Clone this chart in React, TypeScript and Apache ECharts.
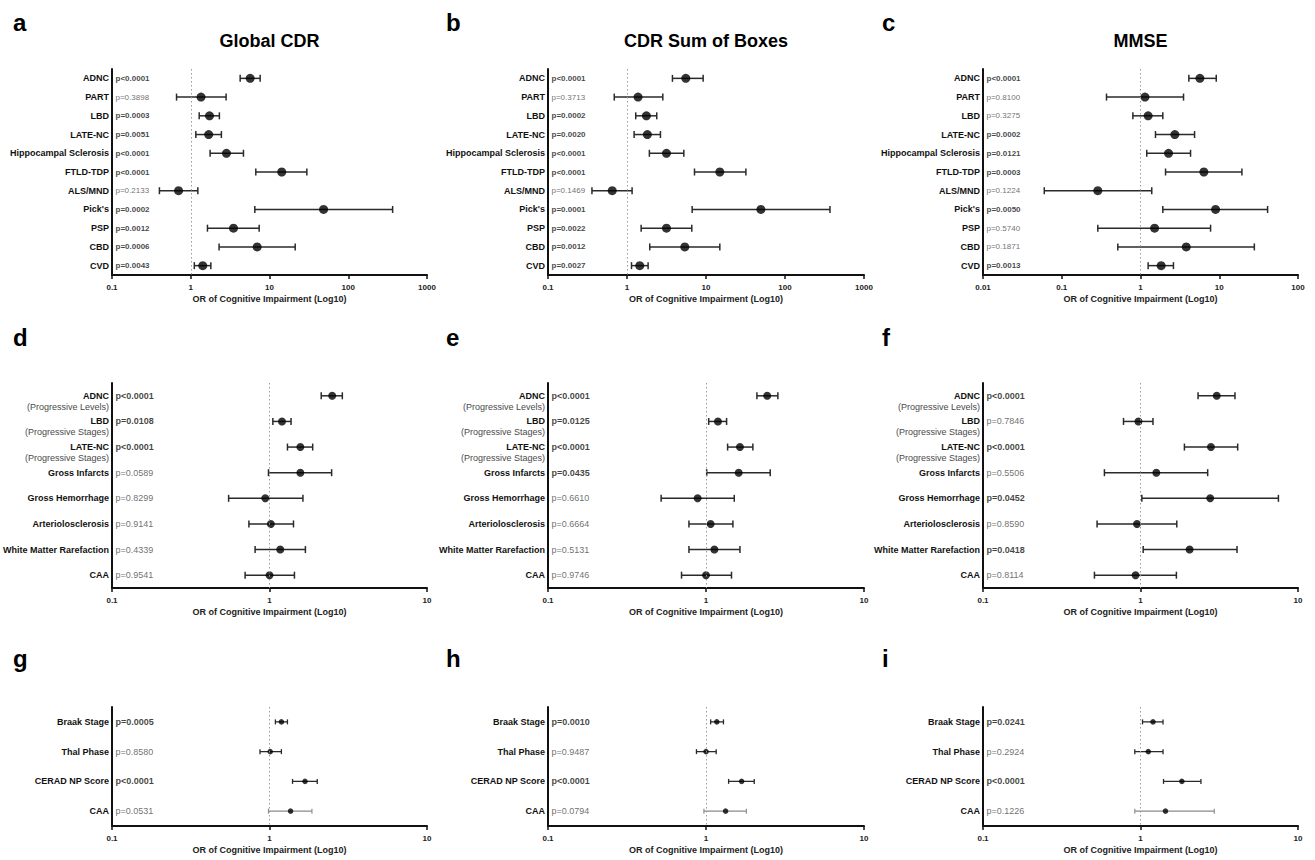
import React, { useEffect, useRef } from 'react';
import * as echarts from 'echarts';

const FONT = '"Liberation Sans", Arial, Helvetica, sans-serif';

// ---------- categories ----------
const topCategories = ['ADNC', 'PART', 'LBD', 'LATE-NC', 'Hippocampal Sclerosis', 'FTLD-TDP', 'ALS/MND', "Pick's", 'PSP', 'CBD', 'CVD'];
const midCategories = ['ADNC', 'LBD', 'LATE-NC', 'Gross Infarcts', 'Gross Hemorrhage', 'Arteriolosclerosis', 'White Matter Rarefaction', 'CAA'];
const midSubtitles = ['(Progressive Levels)', '(Progressive Stages)', '(Progressive Stages)', '', '', '', '', ''];
const botCategories = ['Braak Stage', 'Thal Phase', 'CERAD NP Score', 'CAA'];

// ---------- axis ranges / tick labels ----------
const rangeWide = [0.1, 1000];
const rangeMMSE = [0.01, 100];
const rangeNarrow = [0.1, 10];
const xAxisTitle = 'OR of Cognitive Impairment (Log10)';

// ---------- a: Global CDR ----------
const aOR = [5.68, 1.35, 1.73, 1.69, 2.84, 14.3, 0.70, 48.6, 3.49, 6.97, 1.42];
const aLow = [4.24, 0.66, 1.28, 1.16, 1.76, 6.70, 0.40, 6.51, 1.63, 2.29, 1.11];
const aHigh = [7.61, 2.81, 2.31, 2.45, 4.67, 29.8, 1.23, 366, 7.39, 21.2, 1.80];
const aP = ['p<0.0001', 'p=0.3898', 'p=0.0003', 'p=0.0051', 'p<0.0001', 'p<0.0001', 'p=0.2133', 'p=0.0002', 'p=0.0012', 'p=0.0006', 'p=0.0043'];

// ---------- b: CDR Sum of Boxes ----------
const bOR = [5.55, 1.38, 1.76, 1.81, 3.16, 14.96, 0.65, 49.5, 3.16, 5.39, 1.45];
const bLow = [3.76, 0.69, 1.29, 1.23, 1.92, 7.15, 0.36, 6.68, 1.51, 1.94, 1.14];
const bHigh = [9.2, 2.84, 2.38, 2.65, 5.24, 32, 1.16, 371, 6.61, 14.96, 1.85];
const bP = ['p<0.0001', 'p=0.3713', 'p=0.0002', 'p=0.0020', 'p<0.0001', 'p<0.0001', 'p=0.1469', 'p=0.0001', 'p=0.0022', 'p=0.0012', 'p=0.0027'];

// ---------- c: MMSE ----------
const cOR = [5.68, 1.14, 1.25, 2.73, 2.27, 6.38, 0.287, 8.98, 1.51, 3.81, 1.83];
const cLow = [4.11, 0.37, 0.80, 1.55, 1.20, 2.08, 0.060, 1.92, 0.287, 0.515, 1.25];
const cHigh = [9.16, 3.52, 1.92, 4.86, 4.32, 19.4, 1.39, 41.1, 7.76, 27.9, 2.62];
const cP = ['p<0.0001', 'p=0.8100', 'p=0.3275', 'p=0.0002', 'p=0.0121', 'p=0.0003', 'p=0.1224', 'p=0.0050', 'p=0.5740', 'p=0.1871', 'p=0.0013'];

// ---------- d ----------
const dOR = [2.50, 1.20, 1.57, 1.57, 0.94, 1.02, 1.17, 1.00];
const dLow = [2.13, 1.05, 1.30, 0.985, 0.55, 0.74, 0.81, 0.70];
const dHigh = [2.90, 1.37, 1.88, 2.48, 1.63, 1.42, 1.69, 1.44];
const dP = ['p<0.0001', 'p=0.0108', 'p<0.0001', 'p=0.0589', 'p=0.8299', 'p=0.9141', 'p=0.4339', 'p=0.9541'];

// ---------- e ----------
const eOR = [2.44, 1.19, 1.64, 1.61, 0.885, 1.07, 1.13, 1.00];
const eLow = [2.10, 1.04, 1.37, 1.01, 0.52, 0.78, 0.78, 0.70];
const eHigh = [2.85, 1.35, 1.98, 2.55, 1.51, 1.48, 1.64, 1.45];
const eP = ['p<0.0001', 'p=0.0125', 'p<0.0001', 'p=0.0435', 'p=0.6610', 'p=0.6664', 'p=0.5131', 'p=0.9746'];

// ---------- f ----------
const fOR = [3.05, 0.97, 2.80, 1.26, 2.77, 0.95, 2.05, 0.93];
const fLow = [2.32, 0.78, 1.90, 0.59, 1.02, 0.53, 1.04, 0.51];
const fHigh = [3.98, 1.20, 4.14, 2.67, 7.51, 1.70, 4.10, 1.69];
const fP = ['p<0.0001', 'p=0.7846', 'p<0.0001', 'p=0.5506', 'p=0.0452', 'p=0.8590', 'p=0.0418', 'p=0.8114'];

// ---------- g ----------
const gOR = [1.19, 1.01, 1.68, 1.36];
const gLow = [1.09, 0.87, 1.40, 0.985];
const gHigh = [1.30, 1.19, 2.01, 1.86];
const gP = ['p=0.0005', 'p=0.8580', 'p<0.0001', 'p=0.0531'];

// ---------- h ----------
const hOR = [1.17, 1.00, 1.68, 1.33];
const hLow = [1.07, 0.87, 1.39, 0.97];
const hHigh = [1.29, 1.16, 2.02, 1.80];
const hP = ['p=0.0010', 'p=0.9487', 'p<0.0001', 'p=0.0794'];

// ---------- i ----------
const iOR = [1.20, 1.12, 1.83, 1.44];
const iLow = [1.03, 0.92, 1.40, 0.92];
const iHigh = [1.39, 1.39, 2.42, 2.94];
const iP = ['p=0.0241', 'p=0.2924', 'p<0.0001', 'p=0.1226'];

type Panel = {
  letter: string;
  title?: string;
  cats: string[];
  subs?: string[];
  or: number[];
  lo: number[];
  hi: number[];
  p: string[];
  range: number[];
};

const panels: Panel[] = [
  { letter: 'a', title: 'Global CDR', cats: topCategories, or: aOR, lo: aLow, hi: aHigh, p: aP, range: rangeWide },
  { letter: 'b', title: 'CDR Sum of Boxes', cats: topCategories, or: bOR, lo: bLow, hi: bHigh, p: bP, range: rangeWide },
  { letter: 'c', title: 'MMSE', cats: topCategories, or: cOR, lo: cLow, hi: cHigh, p: cP, range: rangeMMSE },
  { letter: 'd', cats: midCategories, subs: midSubtitles, or: dOR, lo: dLow, hi: dHigh, p: dP, range: rangeNarrow },
  { letter: 'e', cats: midCategories, subs: midSubtitles, or: eOR, lo: eLow, hi: eHigh, p: eP, range: rangeNarrow },
  { letter: 'f', cats: midCategories, subs: midSubtitles, or: fOR, lo: fLow, hi: fHigh, p: fP, range: rangeNarrow },
  { letter: 'g', cats: botCategories, or: gOR, lo: gLow, hi: gHigh, p: gP, range: rangeNarrow },
  { letter: 'h', cats: botCategories, or: hOR, lo: hLow, hi: hHigh, p: hP, range: rangeNarrow },
  { letter: 'i', cats: botCategories, or: iOR, lo: iLow, hi: iHigh, p: iP, range: rangeNarrow },
];

// ---------- layout (positions / styles) ----------
const colLefts = [112, 548, 983];
const colWidths = [315, 316, 315];
const rowLayout = [
  { top: 69, height: 206, letterY: 22, dot: 9, cap: 3.5, labelSize: 9, pSize: 8, lw: 1.5 },
  { top: 383, height: 205, letterY: 337, dot: 8, cap: 3.5, labelSize: 9, pSize: 9, lw: 1.5 },
  { top: 707, height: 119, letterY: 658, dot: 5.5, cap: 2.5, labelSize: 9, pSize: 9, lw: 1.3 },
];
const letterX = [13, 446, 882];
const fadedLastRow = [false, false, false, false, false, false, true, true, true];
const GREY_TEXT = '#4a4a4a';

const isSig = (s: string) => s.includes('<') || parseFloat(s.split('=')[1]) < 0.05;
const fmtTick = (v: number) => String(Number(Number(v).toPrecision(6)));

function buildOption() {
  const grid: any[] = [];
  const xAxis: any[] = [];
  const yAxis: any[] = [];
  const series: any[] = [];
  const graphic: any[] = [];

  panels.forEach((pn, idx) => {
    const col = idx % 3;
    const row = Math.floor(idx / 3);
    const L = rowLayout[row];
    const left = colLefts[col];
    const width = colWidths[col];
    grid.push({ left, top: L.top, width, height: L.height, containLabel: false });

    xAxis.push({
      type: 'log',
      logBase: 10,
      gridIndex: idx,
      min: pn.range[0],
      max: pn.range[1],
      axisLine: { show: true, onZero: false, lineStyle: { color: '#111', width: 2 } },
      axisTick: { show: true, length: 4, lineStyle: { color: '#111', width: 1.5 } },
      axisLabel: { fontSize: 8, fontWeight: 'bold', color: '#222', margin: 8, fontFamily: FONT, formatter: fmtTick },
      splitLine: { show: false },
      name: xAxisTitle,
      nameLocation: 'middle',
      nameGap: 19,
      nameTextStyle: { fontSize: 9, fontWeight: 'bold', color: '#222', fontFamily: FONT },
    });

    const subs = pn.subs;
    yAxis.push({
      type: 'category',
      gridIndex: idx,
      data: pn.cats,
      inverse: true,
      axisLine: { show: true, lineStyle: { color: '#111', width: 2 } },
      axisTick: { show: false },
      splitLine: { show: false },
      axisLabel: {
        margin: 3,
        interval: 0,
        hideOverlap: false,
        align: 'right',
        fontFamily: FONT,
        formatter: (value: string, k: number) => {
          const s = subs ? subs[k] : '';
          return s ? `{e| }\n{b|${value}}\n{s|${s}}` : `{b|${value}}`;
        },
        rich: {
          e: { fontSize: 9, lineHeight: 11, align: 'right' },
          b: { fontSize: L.labelSize, fontWeight: 'bold', color: '#111', lineHeight: 11, align: 'right', fontFamily: FONT },
          s: { fontSize: 9, color: GREY_TEXT, lineHeight: 11, align: 'right', fontFamily: FONT },
        },
      },
    });

    const faded = fadedLastRow[idx];
    const nRows = pn.cats.length;

    series.push({
      type: 'custom',
      xAxisIndex: idx,
      yAxisIndex: idx,
      clip: false,
      silent: true,
      encode: { x: [0, 1], y: 2 },
      data: pn.cats.map((_, k) => [pn.lo[k], pn.hi[k], k]),
      renderItem: (params: any, api: any) => {
        const a = api.coord([api.value(0), api.value(2)]);
        const b = api.coord([api.value(1), api.value(2)]);
        const light = faded && params.dataIndex === nRows - 1;
        const style = { stroke: light ? '#8a8a8a' : '#2a2a2a', lineWidth: light ? 1.1 : L.lw, fill: 'none' };
        const h = L.cap;
        return {
          type: 'group',
          children: [
            { type: 'line', shape: { x1: a[0], y1: a[1], x2: b[0], y2: b[1] }, style },
            { type: 'line', shape: { x1: a[0], y1: a[1] - h, x2: a[0], y2: a[1] + h }, style },
            { type: 'line', shape: { x1: b[0], y1: b[1] - h, x2: b[0], y2: b[1] + h }, style },
          ],
        };
      },
    });

    series.push({
      type: 'scatter',
      xAxisIndex: idx,
      yAxisIndex: idx,
      silent: true,
      symbol: 'circle',
      symbolSize: L.dot,
      itemStyle: { color: '#000' },
      data: pn.cats.map((_, k) => [pn.or[k], k]),
      markLine: {
        silent: true,
        symbol: ['none', 'none'],
        label: { show: false },
        lineStyle: { type: [1.5, 2.5], color: '#9a9a9a', width: 1 },
        data: [{ xAxis: 1 }],
      },
      z: 3,
    });

    series.push({
      type: 'scatter',
      xAxisIndex: idx,
      yAxisIndex: idx,
      silent: true,
      symbolSize: 1,
      itemStyle: { color: 'rgba(0,0,0,0)' },
      data: pn.cats.map((_, k) => [pn.range[0], k]),
      labelLayout: { hideOverlap: false },
      label: {
        show: true,
        position: 'right',
        distance: 3,
        fontFamily: FONT,
        formatter: (prm: any) => {
          const t = pn.p[prm.dataIndex];
          return isSig(t) ? `{b|${t}}` : `{n|${t}}`;
        },
        rich: {
          b: { fontSize: L.pSize, fontWeight: 'bold', color: '#111', fontFamily: FONT },
          n: { fontSize: L.pSize, color: GREY_TEXT, fontFamily: FONT },
        },
      },
      z: 4,
    });

    graphic.push({
      type: 'text',
      x: letterX[col],
      y: L.letterY,
      style: { text: pn.letter, fontSize: 24, fontWeight: 'bold', fill: '#000', fontFamily: FONT, align: 'left', verticalAlign: 'middle' },
    });
    if (pn.title) {
      graphic.push({
        type: 'text',
        x: left + width / 2,
        y: 41,
        style: { text: pn.title, fontSize: 18, fontWeight: 'bold', fill: '#000', fontFamily: FONT, align: 'center', verticalAlign: 'middle' },
      });
    }
  });

  return {
    animation: false,
    backgroundColor: '#fff',
    textStyle: { fontFamily: FONT },
    grid,
    xAxis,
    yAxis,
    series,
    graphic,
  };
}

export default function App() {
  const ref = useRef<HTMLDivElement>(null);
  useEffect(() => {
    if (!ref.current) return;
    const chart = echarts.init(ref.current, undefined, { renderer: 'svg' });
    chart.setOption(buildOption() as any);
    return () => chart.dispose();
  }, []);
  return (
    <div
      ref={ref}
      style={{ position: 'fixed', left: 0, top: 0, width: 1315, height: 860, background: '#fff' }}
    />
  );
}
